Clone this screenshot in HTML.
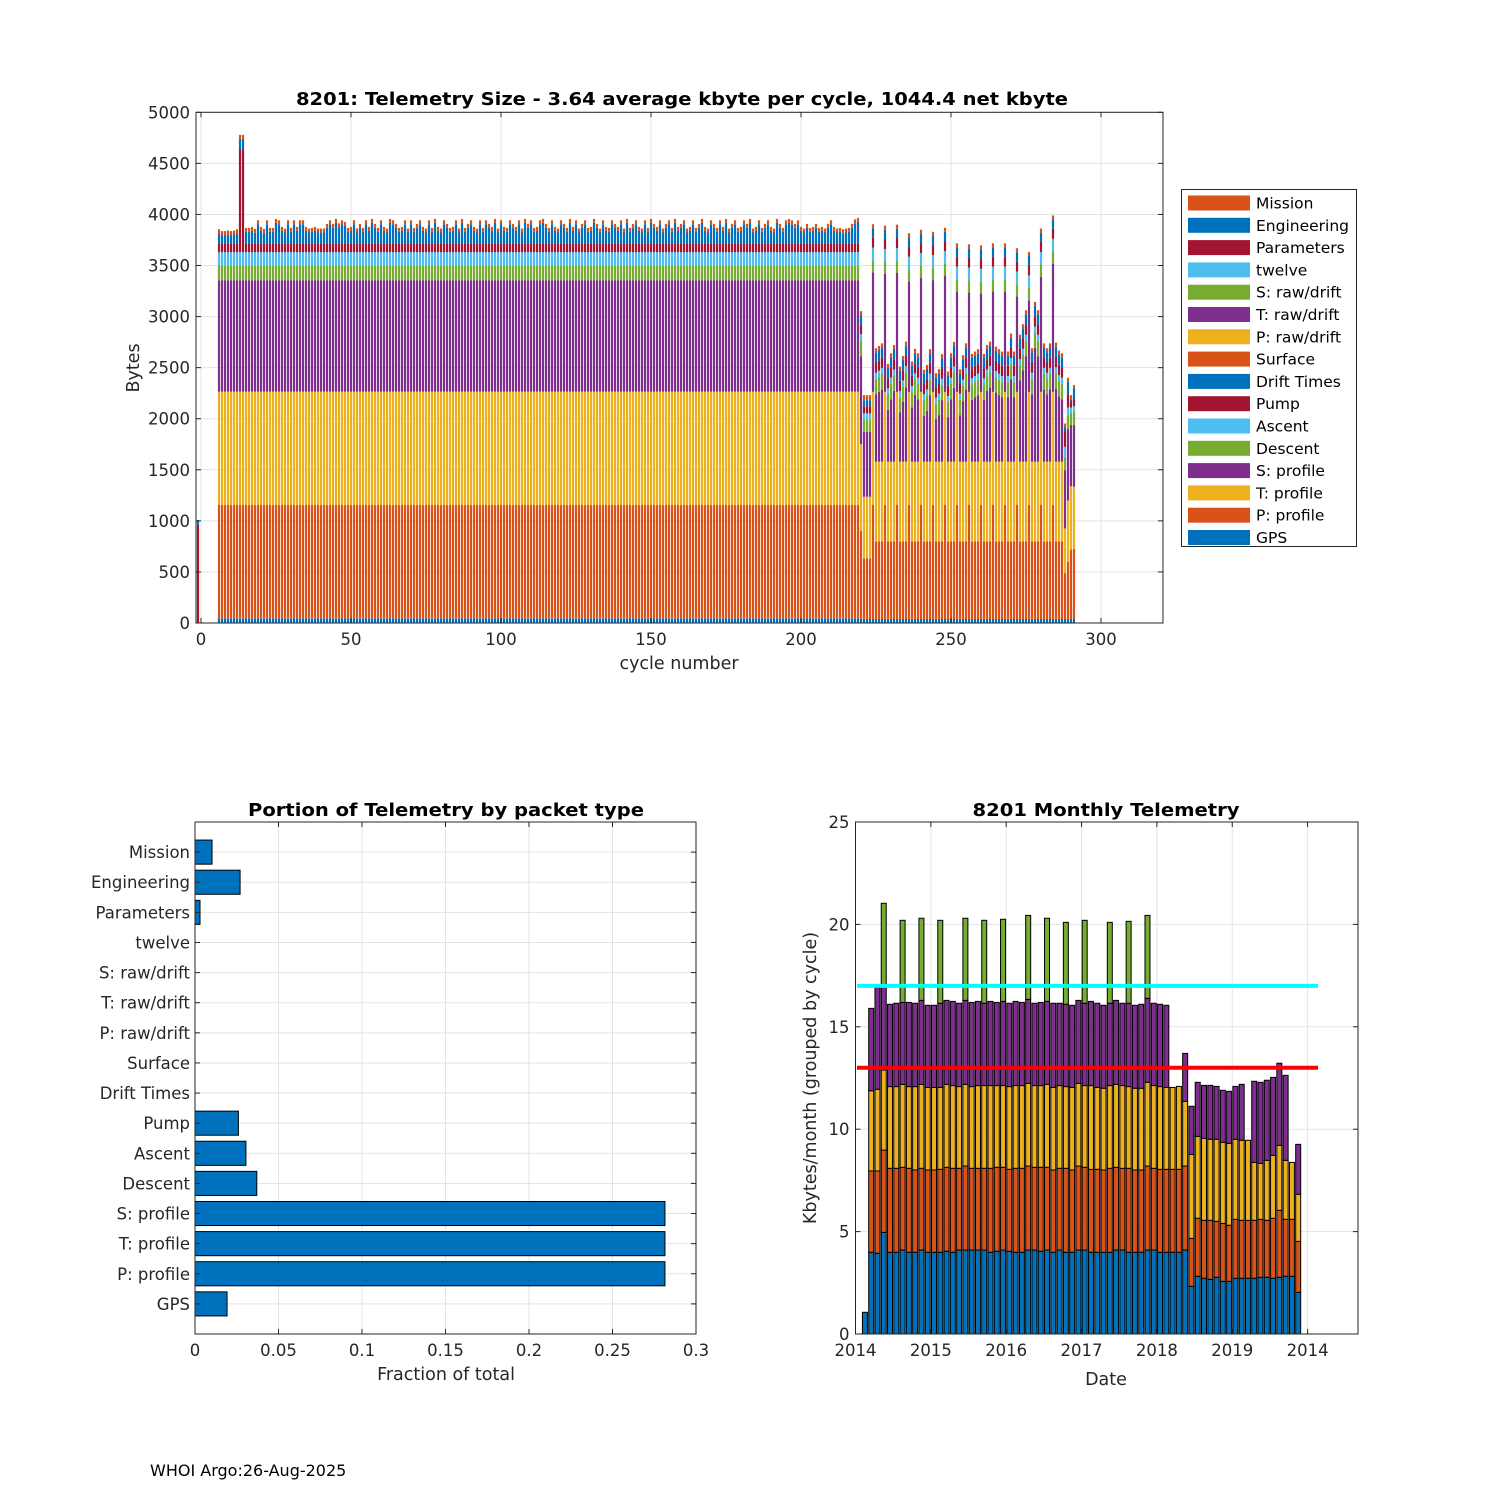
<!DOCTYPE html>
<html><head><meta charset="utf-8">
<style>
html,body{margin:0;padding:0;background:#fff;}
svg{display:block;font-family:"DejaVu Sans","Liberation Sans",sans-serif;}
</style></head>
<body>
<svg id="fig" width="1500" height="1500" viewBox="0 0 1500 1500" xmlns="http://www.w3.org/2000/svg">
<rect width="1500" height="1500" fill="#fff"/>
<g id="top-chart"></g>
<g id="bl-chart"></g>
<g id="br-chart"></g>
<text x="150" y="1476" font-size="16" fill="#000">WHOI Argo:26-Aug-2025</text>
</svg>
<script>
// ===== Top chart data (cycles -1..291) =====
const firstCycle = -1;
const lastCycle = 291;
// run-length literal segments: [value, count] for cycles -1..219
const gpsRuns   = [[0,1],[0,6],[45,214]];
const pProfRuns = [[0,1],[0,6],[1110,214]];
const tProfRuns = [[0,1],[0,6],[1110,214]];
const sProfRuns = [[0,1],[0,6],[1091,214]];
const descRuns  = [[0,1],[0,6],[140,214]];
const ascRuns   = [[0,1],[0,6],[134,214]];
const pumpRuns  = [[959,1],[0,6],[88,7],[1010,2],[88,205]];
const missionRuns = [[0,1],[0,6],[39,214]];
const engPre = [49,0,0,0,0,0,0];
const engStable = [98,80,80,85,80,85,98,100,100,111,
111,121,102,186,121,102,186,111,111,199,
186,121,105,186,111,186,121,186,186,121,
105,111,121,105,105,105,150,186,150,199,
155,186,170,111,121,186,105,150,111,186,
121,199,150,111,186,121,105,199,186,150,
111,121,186,105,186,111,150,186,121,105,
186,111,199,121,105,186,150,111,121,186,
105,199,111,150,186,121,105,186,111,186,
150,121,199,105,186,121,111,186,150,121,
186,105,199,150,186,111,121,186,199,150,
111,186,121,105,186,150,111,199,121,186,
105,150,186,111,121,199,150,105,186,121,
111,186,150,121,186,105,199,111,150,186,
121,105,186,111,199,150,121,186,105,150,
186,111,199,121,150,186,105,121,186,111,
150,199,121,105,186,150,111,186,121,199,
105,150,186,111,121,186,150,199,105,121,
186,111,150,186,121,105,199,150,111,186,
199,186,150,186,121,105,150,111,121,150,
111,121,105,150,186,121,105,111,98,105,
111,150,195,210];
// cycles 220..291: kind per cycle
const seg2Kind = "XLLLTSSSTSSSTSSSTSSSTSSSTSSSTSSSTSSSTSSSTSSSTSSSTSSSTSSSTSSSTSSSTSSSABCD";
// component values per kind: gps, pProf, tProf, sProf(null=use seg2S), desc, asc, pump, eng, mission
const kindX = [39,861,850,862,150,65,89,98,39];
const kindL = [39,594,603,636,115,65,71,59,49];
const kindT = [39,1116,1108,null,121,123,98,91,40];
const kindS = [39,760,780,null,150,60,100,100,40];
const kindA = [39,449,438,571,130,98,150,39,39];
const kindB = [39,560,600,700,140,70,130,120,42];
const kindC = [39,680,620,600,120,50,60,22,40];
const kindD = [39,685,611,603,139,46,65,108,33];
// S: profile bytes for S/T kinds, cycles 224..287
const seg2S = [1168,661,683,709,1155,508,612,693,1164,482,586,726,1080,531,655,612,1114,
450,498,652,1094,417,456,603,1134,433,612,723,982,456,593,709,972,606,629,652,962,
606,693,726,982,677,652,629,982,629,805,629,933,795,896,1033,897,661,1114,1033,1126,
709,661,709,1254,716,638,612];

const legendLabels = ["Mission","Engineering","Parameters","twelve","S: raw/drift","T: raw/drift","P: raw/drift","Surface","Drift Times","Pump","Ascent","Descent","S: profile","T: profile","P: profile","GPS"];
const legendColors = ["#D95319","#0072BD","#A2142F","#4DBEEE","#77AC30","#7E2F8E","#EDB120","#D95319","#0072BD","#A2142F","#4DBEEE","#77AC30","#7E2F8E","#EDB120","#D95319","#0072BD"];
const topYTicks = [0,500,1000,1500,2000,2500,3000,3500,4000,4500,5000];
const topXTicks = [0,50,100,150,200,250,300];

// ===== Bottom-left data =====
const packetLabels = ["Mission","Engineering","Parameters","twelve","S: raw/drift","T: raw/drift","P: raw/drift","Surface","Drift Times","Pump","Ascent","Descent","S: profile","T: profile","P: profile","GPS"];
const packetFractions = [0.0102,0.027,0.003,0,0,0,0,0,0,0.026,0.0305,0.037,0.2814,0.2814,0.2814,0.0192];
const fracTicks = [0,0.05,0.1,0.15,0.2,0.25,0.3];
const fracTickLabels = ["0","0.05","0.1","0.15","0.2","0.25","0.3"];

// ===== Bottom-right data (cumulative tops, months since Jan 2014) =====
const monthIndex = [1,2,3,4,5,6,7,8,9,10,11,12,13,14,15,16,17,18,19,20,21,22,23,24,25,26,27,28,29,30,31,32,33,34,35,36,37,38,39,40,41,42,43,44,45,46,47,48,49,50,51,52,53,54,55,56,57,58,59,60,61,62,63,64,65,66,67,68,69,70];
const mTopBlue = [1.06,3.99,3.94,4.96,3.99,3.99,4.10,3.99,3.99,4.10,3.99,3.99,3.99,4.04,3.99,4.10,4.10,4.10,4.10,4.10,3.99,4.04,4.10,4.04,3.99,3.99,4.10,4.10,4.04,4.10,3.99,4.10,3.99,3.99,4.10,4.10,3.99,3.99,3.99,3.99,4.10,4.10,3.99,3.99,3.99,4.10,4.10,3.99,3.99,3.99,3.99,4.10,2.33,2.82,2.72,2.67,2.77,2.57,2.57,2.72,2.72,2.72,2.72,2.77,2.77,2.72,2.77,2.82,2.82,2.03];
const mTopOrange = [1.06,7.96,7.96,8.98,8.09,8.09,8.14,8.09,8.01,8.09,8.01,8.01,8.04,8.14,8.09,8.09,8.20,8.09,8.09,8.09,8.09,8.14,8.14,8.04,8.09,8.09,8.20,8.14,8.14,8.14,8.01,8.09,8.09,8.01,8.20,8.14,8.04,8.04,8.01,8.09,8.14,8.09,8.09,8.01,8.01,8.20,8.09,8.04,8.04,8.04,8.04,8.20,4.67,5.65,5.55,5.55,5.50,5.40,5.31,5.60,5.55,5.55,5.55,5.60,5.55,5.65,6.04,5.60,5.60,4.52];
const mTopYellow = [1.06,11.88,11.95,12.89,12.08,12.08,12.19,12.08,12.08,12.19,12.04,12.04,12.04,12.19,12.13,12.08,12.19,12.08,12.13,12.13,12.13,12.13,12.13,12.08,12.13,12.13,12.24,12.13,12.13,12.19,12.04,12.13,12.08,12.04,12.24,12.13,12.13,12.04,12.00,12.13,12.19,12.13,12.08,12.00,12.00,12.29,12.13,12.08,12.04,12.04,12.09,11.36,8.77,9.65,9.55,9.51,9.51,9.36,9.31,9.51,9.46,9.46,8.38,8.33,8.48,8.72,9.21,8.48,8.38,6.82];
const mTopPurple = [1.06,15.90,16.93,16.96,16.10,16.15,16.19,16.19,16.15,16.29,16.05,16.05,16.15,16.29,16.24,16.15,16.29,16.19,16.24,16.15,16.24,16.19,16.24,16.15,16.24,16.19,16.34,16.15,16.19,16.24,16.15,16.15,16.10,16.05,16.29,16.15,16.24,16.15,16.05,16.15,16.29,16.15,16.15,16.05,16.10,16.39,16.15,16.10,16.05,12.04,12.09,13.70,11.12,12.29,12.14,12.14,12.09,11.90,11.85,12.09,12.19,9.46,12.34,12.29,12.39,12.53,13.22,12.63,8.38,9.26];
const mTopGreen = [0,0,0,21.03,0,0,20.2,0,0,20.3,0,0,20.2,0,0,0,20.3,0,0,20.2,0,0,20.25,0,0,0,20.44,0,0,20.3,0,0,20.1,0,0,20.2,0,0,0,20.1,0,0,20.15,0,0,20.44,0,0,0,0,0,0,0,0,0,0,0,0,0,0,0,0,0,0,0,0,0,0,0,0];
const refLines = [17, 13];
const refColors = ["#00FFFF","#FF0000"];
const kbYTicks = [0,5,10,15,20,25];
const yearTicks = [2014,2015,2016,2017,2018,2019,2020];
const yearTickLabels = ["2014","2015","2016","2017","2018","2019","2014"];

// ===== helpers =====
const NS = "http://www.w3.org/2000/svg";
function el(tag, attrs, parent){ const e=document.createElementNS(NS,tag); for(const k in attrs) e.setAttribute(k,attrs[k]); parent.appendChild(e); return e; }
function rl(runs){ const out=[]; runs.forEach(r=>{ for(let i=0;i<r[1];i++) out.push(r[0]); }); return out; }
const AX="#262626", GRID="#e3e3e3";

const kindMap = {X:kindX,L:kindL,T:kindT,S:kindS,A:kindA,B:kindB,C:kindC,D:kindD};
const compNames = ["gps","pProf","tProf","sProf","desc","asc","pump","eng","mission"];
const compColors = ["#0072BD","#D95319","#EDB120","#7E2F8E","#77AC30","#4DBEEE","#A2142F","#0072BD","#D95319"];
const comps = [rl(gpsRuns),rl(pProfRuns),rl(tProfRuns),rl(sProfRuns),rl(descRuns),rl(ascRuns),rl(pumpRuns),engPre.concat(engStable),rl(missionRuns)];
let sIdx = 0;
for (let j=0;j<seg2Kind.length;j++){
  const kv = kindMap[seg2Kind[j]];
  let sVal = kv[3];
  if (sVal === null){ sVal = seg2S[sIdx]; sIdx++; }
  for (let k=0;k<9;k++){
    comps[k].push(k===3 ? sVal : kv[k]);
  }
}

// ===== Top chart =====
(function(){
  const g = document.getElementById('top-chart');
  const L=196, R=1163, T=112.3, B=623;
  const xS = c => 201 + (c)*3.0;
  const yS = v => B - (v/5000)*(B-T);
  const grid = el('g',{},g);
  
  
  topXTicks.forEach(t=>{ el('line',{x1:xS(t),x2:xS(t),y1:T,y2:B,stroke:GRID,'stroke-width':1},grid); });
  topYTicks.forEach(t=>{ el('line',{x1:L,x2:R,y1:yS(t),y2:yS(t),stroke:GRID,'stroke-width':1},grid); });
  const bars = el('g',{},g);
  
  
  const n = lastCycle - firstCycle + 1;
  for (let i=0;i<n;i++){
    const c = firstCycle + i;
    let base = 0;
    for (let k=0;k<9;k++){
      const v = comps[k][i];
      if (!v) continue;
      const r = el('rect',{x:xS(c)-1.1,width:2.2,y:yS(base+v),height:yS(base)-yS(base+v),fill:compColors[k]},bars);
      
      
      base += v;
    }
  }
  el('rect',{x:L,y:T,width:R-L,height:B-T,fill:'none',stroke:AX,'stroke-width':1},g);
  topXTicks.forEach(t=>{
    el('line',{x1:xS(t),x2:xS(t),y1:B,y2:B-5,stroke:AX},g);
    el('line',{x1:xS(t),x2:xS(t),y1:T,y2:T+5,stroke:AX},g);
    const tx=el('text',{x:xS(t),y:B+22,'font-size':16.5,'text-anchor':'middle',fill:AX},g); tx.textContent=t;
    
    
  });
  topYTicks.forEach(t=>{
    el('line',{x1:L,x2:L+5,y1:yS(t),y2:yS(t),stroke:AX},g);
    el('line',{x1:R,x2:R-5,y1:yS(t),y2:yS(t),stroke:AX},g);
    const tx=el('text',{x:L-6,y:yS(t)+6,'font-size':16.5,'text-anchor':'end',fill:AX},g); tx.textContent=t;
    
    
  });
  const ti=el('text',{x:682,y:105,'font-size':17.5,'font-weight':'bold','text-anchor':'middle',fill:'#000',textLength:772,lengthAdjust:'spacingAndGlyphs'},g);
  ti.textContent="8201: Telemetry Size - 3.64 average kbyte per cycle, 1044.4 net kbyte";
  
  
  const xl=el('text',{x:679,y:669,'font-size':17.5,'text-anchor':'middle',fill:AX},g); xl.textContent="cycle number";
  
  
  const yl=el('text',{x:0,y:0,'font-size':17.5,'text-anchor':'middle',fill:AX,transform:'translate(139,368) rotate(-90)'},g); yl.textContent="Bytes";
  
  
  const lg = el('g',{},g);
  
  
  el('rect',{x:1181.5,y:189.5,width:175,height:357,fill:'#fff',stroke:AX,'stroke-width':1},lg);
  legendLabels.forEach((lab,i)=>{
    const cy = 203 + i*22.3;
    const e = el('g',{},lg);
    
    
    el('rect',{x:1188,y:cy-7.5,width:62,height:15,fill:legendColors[i]},e);
    const t=el('text',{x:1256,y:cy+5.5,'font-size':15.5,fill:'#000'},e); t.textContent=lab;
  });
})();

// ===== Bottom-left chart =====
(function(){
  const g = document.getElementById('bl-chart');
  const L=195, R=696, T=822, B=1334;
  const xS = v => L + (v/0.3)*(R-L);
  const yS = i => T + (i+1)*(B-T)/17;
  fracTicks.forEach(t=>{ el('line',{x1:xS(t),x2:xS(t),y1:T,y2:B,stroke:GRID},g); });
  packetLabels.forEach((l,i)=>{ el('line',{x1:L,x2:R,y1:yS(i),y2:yS(i),stroke:GRID},g); });
  const bh = 0.8*(B-T)/17;
  packetFractions.forEach((v,i)=>{
    if (v>0){
      const r=el('rect',{x:xS(0),y:yS(i)-bh/2,width:xS(v)-xS(0),height:bh,fill:'#0072BD',stroke:'#000','stroke-width':1},g);
      
      
    }
    el('line',{x1:L,x2:L+5,y1:yS(i),y2:yS(i),stroke:AX},g);
    el('line',{x1:R,x2:R-5,y1:yS(i),y2:yS(i),stroke:AX},g);
    const t=el('text',{x:L-5,y:yS(i)+6,'font-size':16.5,'text-anchor':'end',fill:AX},g); t.textContent=packetLabels[i];
    
    
  });
  el('rect',{x:L,y:T,width:R-L,height:B-T,fill:'none',stroke:AX},g);
  fracTicks.forEach((t,i)=>{
    el('line',{x1:xS(t),x2:xS(t),y1:B,y2:B-5,stroke:AX},g);
    el('line',{x1:xS(t),x2:xS(t),y1:T,y2:T+5,stroke:AX},g);
    const tx=el('text',{x:xS(t),y:B+22,'font-size':16.5,'text-anchor':'middle',fill:AX},g); tx.textContent=fracTickLabels[i];
    
    
  });
  const ti=el('text',{x:446,y:816,'font-size':17.5,'font-weight':'bold','text-anchor':'middle',fill:'#000',textLength:396,lengthAdjust:'spacingAndGlyphs'},g);
  ti.textContent="Portion of Telemetry by packet type";
  
  
  const xl=el('text',{x:446,y:1380,'font-size':17.5,'text-anchor':'middle',fill:AX},g); xl.textContent="Fraction of total";
  
  
})();

// ===== Bottom-right chart =====
(function(){
  const g = document.getElementById('br-chart');
  const L=855.5, R=1358, T=822, B=1334;
  const xS = yr => 855.5 + (yr-2014)*75.35;
  const yS = v => B - (v/25)*(B-T);
  yearTicks.forEach(t=>{ el('line',{x1:xS(t),x2:xS(t),y1:T,y2:B,stroke:GRID},g); });
  kbYTicks.forEach(t=>{ el('line',{x1:L,x2:R,y1:yS(t),y2:yS(t),stroke:GRID},g); });
  const bw = 5;
  const tops = [mTopBlue,mTopOrange,mTopYellow,mTopPurple,mTopGreen];
  const cols = ["#0072BD","#D95319","#EDB120","#7E2F8E","#77AC30"];
  const nm = ["blue","orange","yellow","purple","green"];
  monthIndex.forEach((m,i)=>{
    const cx = xS(2014 + (m+0.5)/12);
    let prev = 0;
    for (let k=0;k<5;k++){
      const top = tops[k][i];
      if (top > prev){
        const r=el('rect',{x:cx-bw/2,y:yS(top),width:bw,height:yS(prev)-yS(top),fill:cols[k],stroke:'#000','stroke-width':1},g);
        
        
        prev = top;
      }
    }
  });
  refLines.forEach((v,i)=>{
    const ln=el('line',{x1:857,x2:1318,y1:yS(v),y2:yS(v),stroke:refColors[i],'stroke-width':4},g);
    
    
  });
  el('rect',{x:L,y:T,width:R-L,height:B-T,fill:'none',stroke:AX},g);
  yearTicks.forEach((t,i)=>{
    el('line',{x1:xS(t),x2:xS(t),y1:B,y2:B-5,stroke:AX},g);
    el('line',{x1:xS(t),x2:xS(t),y1:T,y2:T+5,stroke:AX},g);
    const tx=el('text',{x:xS(t),y:B+22,'font-size':16.5,'text-anchor':'middle',fill:AX},g); tx.textContent=yearTickLabels[i];
    
    
  });
  kbYTicks.forEach(t=>{
    el('line',{x1:L,x2:L+5,y1:yS(t),y2:yS(t),stroke:AX},g);
    el('line',{x1:R,x2:R-5,y1:yS(t),y2:yS(t),stroke:AX},g);
    const tx=el('text',{x:L-6,y:yS(t)+6,'font-size':16.5,'text-anchor':'end',fill:AX},g); tx.textContent=t;
    
    
  });
  const ti=el('text',{x:1106,y:816,'font-size':17.5,'font-weight':'bold','text-anchor':'middle',fill:'#000',textLength:267,lengthAdjust:'spacingAndGlyphs'},g);
  ti.textContent="8201 Monthly Telemetry";
  
  
  const xl=el('text',{x:1106,y:1385,'font-size':17.5,'text-anchor':'middle',fill:AX},g); xl.textContent="Date";
  
  
  const yl=el('text',{x:0,y:0,'font-size':17.5,'text-anchor':'middle',fill:AX,transform:'translate(816,1078) rotate(-90)'},g); yl.textContent="Kbytes/month (grouped by cycle)";
  
  
})();
</script>
</body></html>
